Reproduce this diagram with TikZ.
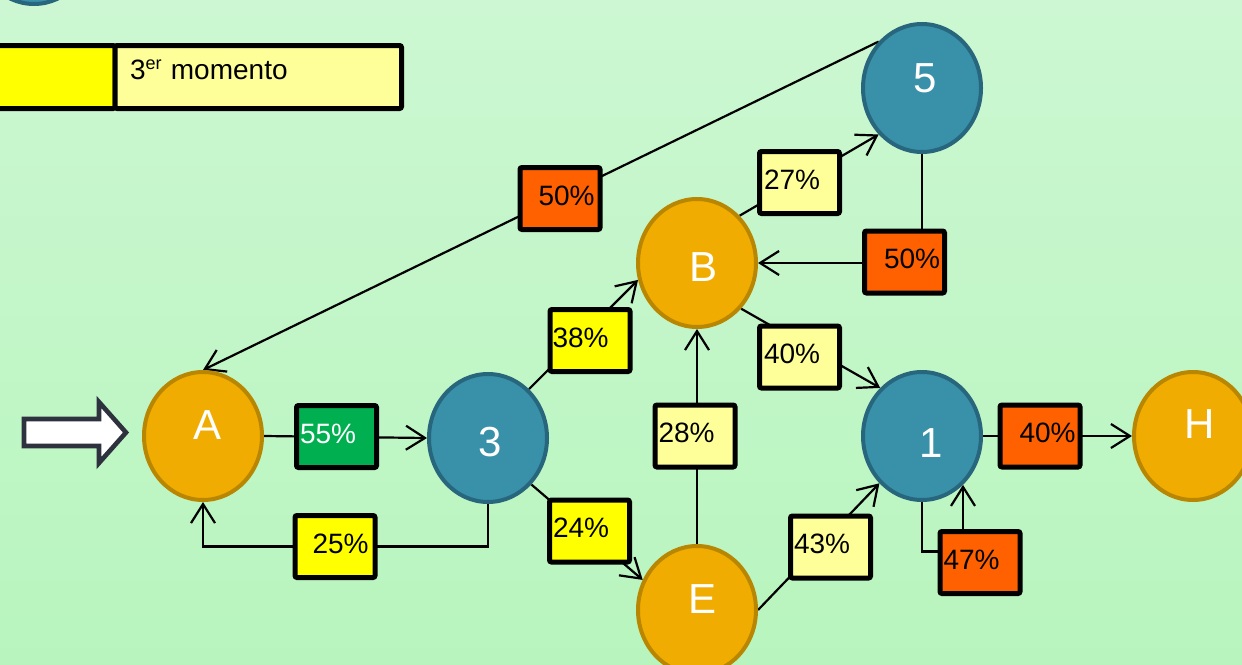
\documentclass[tikz,border=0pt]{standalone}
\usepackage{fontspec}
\setmainfont{Liberation Sans}
\usetikzlibrary{shapes.geometric,arrows.meta,calc}
\pgfdeclarelayer{bg}\pgfdeclarelayer{lines}
\pgfsetlayers{bg,lines,main}
\definecolor{bgtop}{RGB}{204,247,210}
\definecolor{bgbot}{RGB}{184,245,190}
\definecolor{goldn}{RGB}{240,172,0}
\definecolor{golddark}{RGB}{184,134,0}
\definecolor{tealn}{RGB}{56,145,168}
\definecolor{tealdark}{RGB}{40,102,125}
\definecolor{boxgreen}{RGB}{0,176,80}
\definecolor{boxyellow}{RGB}{255,255,0}
\definecolor{boxlight}{RGB}{255,255,153}
\definecolor{boxorange}{RGB}{255,96,0}
\definecolor{arrowgray}{RGB}{45,50,62}
\begin{document}
\begin{tikzpicture}[x=0.5pt,y=-0.5pt,
  circ/.style={ellipse, draw, line width=2pt, minimum width=59pt, minimum height=64pt, inner sep=0pt},
  gnode/.style={circ, fill=goldn, draw=golddark},
  tnode/.style={circ, fill=tealn, draw=tealdark},
  lbl/.style={text=white, font=\fontsize{21}{24}\selectfont, inner sep=0pt},
  pbox/.style={draw=black, line width=2.5pt, rounded corners=1pt, minimum width=40pt, minimum height=31pt, text width=40pt, align=left, inner sep=0pt, text depth=3pt, font=\fontsize{14}{16}\selectfont},
  legbox/.style={draw=black, line width=2.5pt, rounded corners=1pt, minimum height=31.5pt, inner sep=0pt},
  conn/.style={line width=1.1pt, draw=black},
  arr/.style={conn, -{Straight Barb[length=9.5pt,width=12pt]}},
]
\useasboundingbox (0,0) rectangle (1242,664);
\begin{pgfonlayer}{bg}
\shade[top color=bgtop,bottom color=bgbot] (0,0) rectangle (1242,664);
\end{pgfonlayer}
\begin{scope}
\clip (0,0) rectangle (1242,664);
% partial node at top-left
\node[tnode] (c0) at (34,-60) {};
% legend
\node[legbox, fill=boxyellow, minimum width=62.5pt] (ly) at (52.5,77) {};
\node[legbox, fill=boxlight, minimum width=143.25pt, text width=143.25pt, align=left, text depth=7pt, font=\fontsize{14}{16}\selectfont] (ll) at (258.25,77) {\hspace*{7.5pt}3{\fontsize{9}{10}\selectfont\raisebox{5pt}{er}} momento};
% input arrow
\draw[line width=2.3pt, draw=arrowgray, fill=white, line join=miter]
  (24,419) -- (99,419) -- (99,402) -- (126,432.5) -- (99,463) -- (99,446) -- (24,446) -- cycle;
% main nodes
\node[gnode, label={[lbl,xshift=2.25pt,yshift=5.5pt]center:A}] (A) at (203,436) {};
\node[tnode, label={[lbl,xshift=1pt,yshift=-2pt]center:3}] (n3) at (488,438) {};
\node[gnode, label={[lbl,xshift=3pt,yshift=-2pt]center:B}] (B) at (697,263) {};
\node[tnode, label={[lbl,xshift=1.5pt,yshift=5pt]center:5}] (n5) at (922,88) {};
\node[tnode, label={[lbl,xshift=4.5pt,yshift=-3.5pt]center:1}] (n1) at (922,436) {};
\node[gnode, label={[lbl,xshift=3.5pt,yshift=6pt]center:H}] (H) at (1193,436) {};
\node[gnode, label={[lbl,xshift=2.5pt,yshift=5.5pt]center:E}] (E) at (697,610) {};
% percentage boxes
\node[pbox, fill=boxgreen, text=white] (p55) at (336.5,436.5) {\hspace*{1.75pt}55\%};
\node[pbox, fill=boxyellow] (p25) at (335,546.5) {\hspace*{8.75pt}25\%};
\node[pbox, fill=boxorange] (p50a) at (560,198.5) {\hspace*{9.25pt}50\%};
\node[pbox, fill=boxlight] (p27) at (799.5,182.5) {\hspace*{2.25pt}27\%};
\node[pbox, fill=boxorange] (p50b) at (904.5,262) {\hspace*{9.75pt}50\%};
\node[pbox, fill=boxyellow] (p38) at (590,340.5) {\hspace*{1.25pt}38\%};
\node[pbox, fill=boxlight] (p40a) at (799.5,357) {\hspace*{2.25pt}40\%};
\node[pbox, fill=boxlight] (p28) at (695,436) {\hspace*{1.75pt}28\%};
\node[pbox, fill=boxyellow] (p24) at (589.5,531) {\hspace*{1.75pt}24\%};
\node[pbox, fill=boxlight] (p43) at (830.5,547) {\hspace*{1.75pt}43\%};
\node[pbox, fill=boxorange] (p47) at (980,562.5) {\hspace*{1.75pt}47\%};
\node[pbox, fill=boxorange] (p40b) at (1040,436) {\hspace*{9.75pt}40\%};
\end{scope}
% connectors
\begin{pgfonlayer}{lines}
\draw[arr] (A.east) -- (n3.west);
\draw[arr] (n3.south) |- (p25.center) -| (A.south);
\draw[arr] (n3.50) -- (B.196);
\draw[arr] (n3.-47) -- (E.151);
\draw[arr] (E.north) -- (B.south);
\draw[arr] (B.48) -- (n5.227);
\draw[arr] (n5.south) |- (B.east);
\draw[arr] (n5.133) -- (A.north);
\draw[arr] (B.-46) -- (n1.131);
\draw[arr] (E.east) -- (n1.228);
\draw[arr] (n1.east) -- (H.west);
\draw[conn] (n1.south) |- ($(p47.west)+(0,-11)$);
\draw[arr] (n1.-50 |- p47.north) -- (n1.-50);
\end{pgfonlayer}
\end{tikzpicture}
\end{document}
